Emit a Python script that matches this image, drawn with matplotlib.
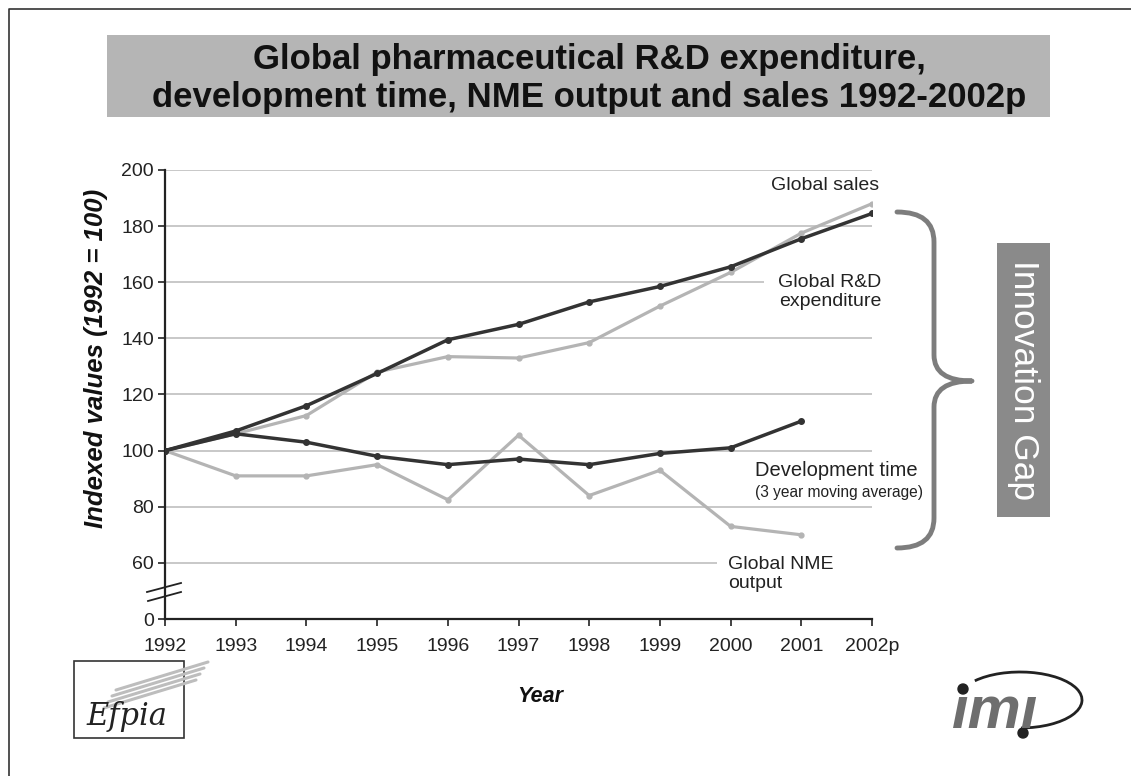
import matplotlib
matplotlib.use("Agg")
import matplotlib.pyplot as plt
from matplotlib.patches import Rectangle, PathPatch, Arc, Circle
from matplotlib.path import Path

plt.rcParams['font.family'] = ['Liberation Sans', 'DejaVu Sans']

# ---- data ----
years = ["1992", "1993", "1994", "1995", "1996", "1997", "1998", "1999", "2000", "2001", "2002p"]
rd_expenditure = [100, 107, 116, 127.5, 139.5, 145, 153, 158.5, 165.5, 175.5, 184.5]
global_sales = [100, 106, 112.5, 128, 133.5, 133, 138.5, 151.5, 163.5, 177.5, 188]
development_time = [100, 106, 103, 98, 95, 97, 95, 99, 101, 110.5]
nme_output = [100, 91, 91, 95, 82.5, 105.5, 84, 93, 73, 70]

y_ticks = [40, 60, 80, 100, 120, 140, 160, 180, 200]
y_tick_labels = ["0", "60", "80", "100", "120", "140", "160", "180", "200"]

W, H = 1131, 776
fig = plt.figure(figsize=(W / 100, H / 100), dpi=100)
fig.patch.set_facecolor("white")

# ---- main chart ----
ax = fig.add_axes([165 / W, 1 - 619 / H, (872 - 165) / W, (619 - 170) / H])
x_all = list(range(len(years)))

dark = "#333333"
light = "#b4b4b4"

for yv in y_ticks[1:]:
    ax.axhline(yv, color="#c4c4c4", lw=1.3, zorder=1)

ax.plot(x_all, global_sales, color=light, lw=2.3, marker="o", ms=3.5, zorder=3)
ax.plot(x_all[:len(nme_output)], nme_output, color=light, lw=2.3, marker="o", ms=3.5, zorder=3)
ax.plot(x_all, rd_expenditure, color=dark, lw=2.5, marker="o", ms=4, zorder=4)
ax.plot(x_all[:len(development_time)], development_time, color=dark, lw=2.5, marker="o", ms=4, zorder=4)

ax.set_xlim(0, len(years) - 1)
ax.set_ylim(40, 200)
ax.set_xticks(x_all)
ax.set_xticklabels(years)
ax.set_yticks(y_ticks)
ax.set_yticklabels(y_tick_labels)
ax.tick_params(axis="both", labelsize=14, colors="#222222", length=5, width=1.2, direction="out")
ax.tick_params(axis="x", pad=9)
ax.tick_params(axis="y", pad=3)
for s in ["top", "right"]:
    ax.spines[s].set_visible(False)
for s in ["left", "bottom"]:
    ax.spines[s].set_color("#222222")
    ax.spines[s].set_linewidth(1.6)
ax.set_facecolor("none")

# ---- overlay in pixel coordinates ----
ov = fig.add_axes([0, 0, 1, 1], zorder=10)
ov.set_xlim(0, W)
ov.set_ylim(H, 0)
ov.axis("off")
ov.patch.set_alpha(0)

# frame edges
ov.plot([9, 9, W], [H, 9, 9], color="#333333", lw=1.2)

# title banner
ov.add_patch(Rectangle((107, 35), 943, 82, facecolor="#b5b5b5", edgecolor="none"))
ov.text(589, 59, "Global pharmaceutical R&D expenditure,", ha="center", va="center",
        fontsize=25, fontweight="bold", color="#111111")
ov.text(589, 97, "development time, NME output and sales 1992-2002p", ha="center", va="center",
        fontsize=25, fontweight="bold", color="#111111")

# axis labels
ov.text(96, 358, "Indexed values (1992 = 100)", rotation=90, ha="center", va="center",
        fontsize=18.5, fontweight="bold", fontstyle="italic", color="#111111")
ov.text(540, 697, "Year", ha="center", va="center",
        fontsize=15.5, fontweight="bold", fontstyle="italic", color="#111111")

# axis break marks
ov.plot([147, 181], [592, 583], color="#222222", lw=1.3)
ov.plot([148, 181], [601, 592], color="#222222", lw=1.3)

# label backgrounds hide the gridlines behind the text
ov.add_patch(Rectangle((764, 270), 116, 42, facecolor="white", edgecolor="none"))
ov.add_patch(Rectangle((717, 552), 160, 44, facecolor="white", edgecolor="none"))

# series labels
ov.text(825, 186, "Global sales", ha="center", va="center", fontsize=14, color="#222222")
ov.text(830, 292, "Global R&D\nexpenditure", ha="center", va="center", fontsize=14,
        color="#222222", linespacing=1.1)
ov.text(755, 470, "Development time", ha="left", va="center", fontsize=14.5, color="#222222")
ov.text(755, 492, "(3 year moving average)", ha="left", va="center", fontsize=11.2, color="#222222")
ov.text(728, 574, "Global NME\noutput", ha="left", va="center", fontsize=14,
        color="#222222", linespacing=1.1)

# curly brace
xs, xm, xt = 897, 934, 972
yt, yc, yb = 212, 381, 548
verts = [
    (xs, yt), (xm, yt), (xm, yt + 30),
    (xm, yc - 26),
    (xm, yc), (xt, yc),
    (xm, yc), (xm, yc + 26),
    (xm, yb - 30),
    (xm, yb), (xs, yb),
]
codes = [Path.MOVETO, Path.CURVE3, Path.CURVE3,
         Path.LINETO,
         Path.CURVE3, Path.CURVE3,
         Path.CURVE3, Path.CURVE3,
         Path.LINETO,
         Path.CURVE3, Path.CURVE3]
ov.add_patch(PathPatch(Path(verts, codes), facecolor="none", edgecolor="#7d7d7d",
                       lw=3.5, capstyle="round", joinstyle="round"))

# Innovation Gap box
ov.add_patch(Rectangle((997, 243), 53, 274, facecolor="#8a8a8a", edgecolor="none"))
ov.text(1023.5, 380, "Innovation Gap", rotation=-90, ha="center", va="center",
        fontsize=25.5, color="white")

# efpia logo
ov.add_patch(Rectangle((74, 661), 110, 77, facecolor="white", edgecolor="#333333", lw=1.2))
for k in range(4):
    ov.plot([104 + 4 * k, 196 + 4 * k], [708 - 6 * k, 680 - 6 * k], color="#bdbdbd", lw=2.2,
            solid_capstyle="round")
ov.text(127, 716, "Efpia", ha="center", va="center", fontsize=22, fontstyle="italic",
        family="DejaVu Serif", color="#222222")

# imi logo
ov.text(995, 712, "\u0131m\u0131", ha="center", va="center", fontsize=43, fontweight="bold",
        fontstyle="italic", color="#6e6e6e")
ov.add_patch(Arc((1020, 700), 124, 56, theta1=203, theta2=448, color="#222222", lw=2.0))
ov.add_patch(Circle((963, 689), 5, color="#222222"))
ov.add_patch(Circle((1023, 733), 5, color="#222222"))

fig.savefig("out.png", dpi=100)
